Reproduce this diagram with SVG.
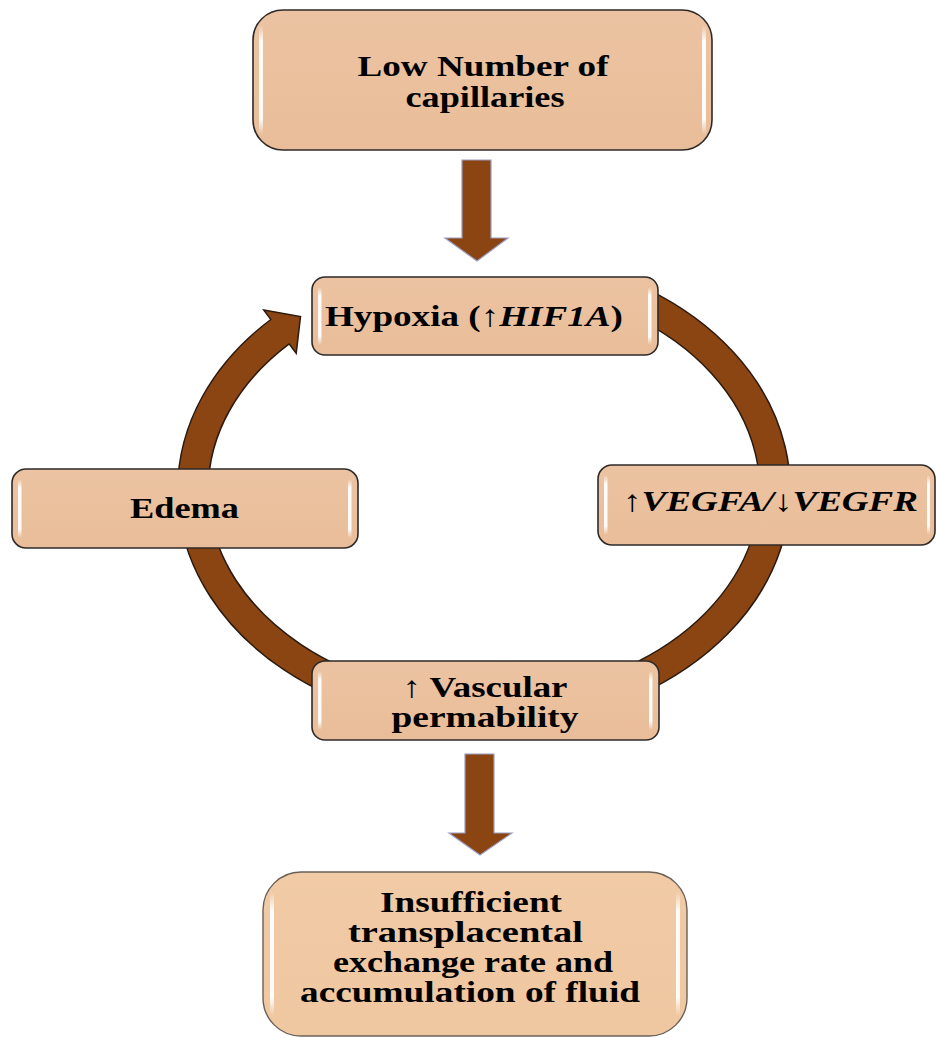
<svg xmlns="http://www.w3.org/2000/svg" width="936" height="1038" viewBox="0 0 936 1038">
  <defs>
    <linearGradient id="hl" x1="0" y1="0" x2="0" y2="1">
      <stop offset="0" stop-color="#ffffff" stop-opacity="0"/>
      <stop offset="0.15" stop-color="#ffffff" stop-opacity="0.95"/>
      <stop offset="0.85" stop-color="#ffffff" stop-opacity="0.95"/>
      <stop offset="1" stop-color="#ffffff" stop-opacity="0"/>
    </linearGradient>
    <linearGradient id="boxfill" x1="0" y1="0" x2="0" y2="1">
      <stop offset="0" stop-color="#ecc3a2"/>
      <stop offset="1" stop-color="#e9bd99"/>
    </linearGradient>
    <linearGradient id="boxfill2" x1="0" y1="0" x2="0" y2="1">
      <stop offset="0" stop-color="#f1cba6"/>
      <stop offset="1" stop-color="#efc7a1"/>
    </linearGradient>
  </defs>
  <style>
    .box { fill: url(#boxfill); stroke: #2e2a28; stroke-width: 1.6; }
    .box2 { fill: url(#boxfill2); stroke: #6b6058; stroke-width: 1.4; }
    .hl { fill: url(#hl); }
    .t { font-family: "Liberation Serif", "Times New Roman", serif; font-weight: bold; font-size: 30px; fill: #000; text-anchor: middle; }
    .i { font-style: italic; }
    .ringOut { fill: none; stroke: #2a1a10; stroke-width: 32; }
    .ringIn { fill: none; stroke: #8b4513; stroke-width: 29; }
    .ah { fill: #8b4513; stroke: #2a1a10; stroke-width: 1.5; stroke-linejoin: miter; }
    .down { fill: #8b4513; stroke: #9c9cc0; stroke-width: 1.2; }
  </style>
  <rect width="936" height="1038" fill="#ffffff"/>

  <g id="connectors">
    <path class="ringOut" d="M640,302.6 A291,222 0 1 1 280,331.7"/>
    <polygon class="ah" points="263.8,310.1 300.5,316.5 296.2,353.3"/>
    <path class="ringIn" d="M640,302.6 A291,222 0 1 1 285.5,327.6"/>
    <polygon class="down" points="462,160 491,160 491,238 508,238 477,261 445,238 462,238"/>
    <polygon class="down" points="465,754 494,754 494,833 512,833 480,855 449,833 465,833"/>
  </g>

  <g id="node-low">
    <rect class="box" x="253" y="10" width="459" height="140" rx="30"/>
    <rect class="hl" x="259" y="25" width="4" height="110" rx="2"/>
    <rect class="hl" x="702" y="25" width="4" height="110" rx="2"/>
    <text class="t" x="483" y="76" textLength="251" lengthAdjust="spacingAndGlyphs">Low Number of</text>
    <text class="t" x="485" y="107" textLength="159" lengthAdjust="spacingAndGlyphs">capillaries</text>
  </g>

  <g id="node-hypoxia">
    <rect class="box" x="312" y="277" width="346" height="78" rx="13"/>
    <rect class="hl" x="318" y="287" width="3.5" height="58" rx="1.7"/>
    <rect class="hl" x="648" y="287" width="3.5" height="58" rx="1.7"/>
    <text class="t" x="474" y="326" textLength="298" lengthAdjust="spacingAndGlyphs">Hypoxia (↑<tspan class="i">HIF1A</tspan>)</text>
  </g>

  <g id="node-edema">
    <rect class="box" x="12" y="469" width="346" height="79" rx="14"/>
    <rect class="hl" x="18" y="479" width="3.5" height="59" rx="1.7"/>
    <rect class="hl" x="348" y="479" width="3.5" height="59" rx="1.7"/>
    <text class="t" x="184.5" y="518" textLength="109" lengthAdjust="spacingAndGlyphs">Edema</text>
  </g>

  <g id="node-vegf">
    <rect class="box" x="598" y="465" width="337" height="80" rx="14"/>
    <rect class="hl" x="604" y="475" width="3.5" height="60" rx="1.7"/>
    <rect class="hl" x="927" y="475" width="3" height="60" rx="1.5"/>
    <text class="t" x="770.5" y="511" textLength="295" lengthAdjust="spacingAndGlyphs">↑<tspan class="i">VEGFA/</tspan>↓<tspan class="i">VEGFR</tspan></text>
  </g>

  <g id="node-vascular">
    <rect class="box" x="312" y="661" width="347" height="79" rx="13"/>
    <rect class="hl" x="318" y="671" width="3.5" height="59" rx="1.7"/>
    <rect class="hl" x="649" y="671" width="3.5" height="59" rx="1.7"/>
    <text class="t" x="485" y="697" textLength="165" lengthAdjust="spacingAndGlyphs">↑ Vascular</text>
    <text class="t" x="485" y="727" textLength="187" lengthAdjust="spacingAndGlyphs">permability</text>
  </g>

  <g id="node-insufficient">
    <rect class="box2" x="263" y="872" width="424" height="164" rx="38"/>
    <rect class="hl" x="270" y="892" width="4" height="124" rx="2"/>
    <rect class="hl" x="676" y="892" width="4" height="124" rx="2"/>
    <text class="t" x="471" y="912" textLength="182" lengthAdjust="spacingAndGlyphs">Insufficient</text>
    <text class="t" x="465.5" y="942" textLength="235" lengthAdjust="spacingAndGlyphs">transplacental</text>
    <text class="t" x="473" y="972" textLength="280" lengthAdjust="spacingAndGlyphs">exchange rate and</text>
    <text class="t" x="470" y="1002" textLength="340" lengthAdjust="spacingAndGlyphs">accumulation of fluid</text>
  </g>
</svg>
